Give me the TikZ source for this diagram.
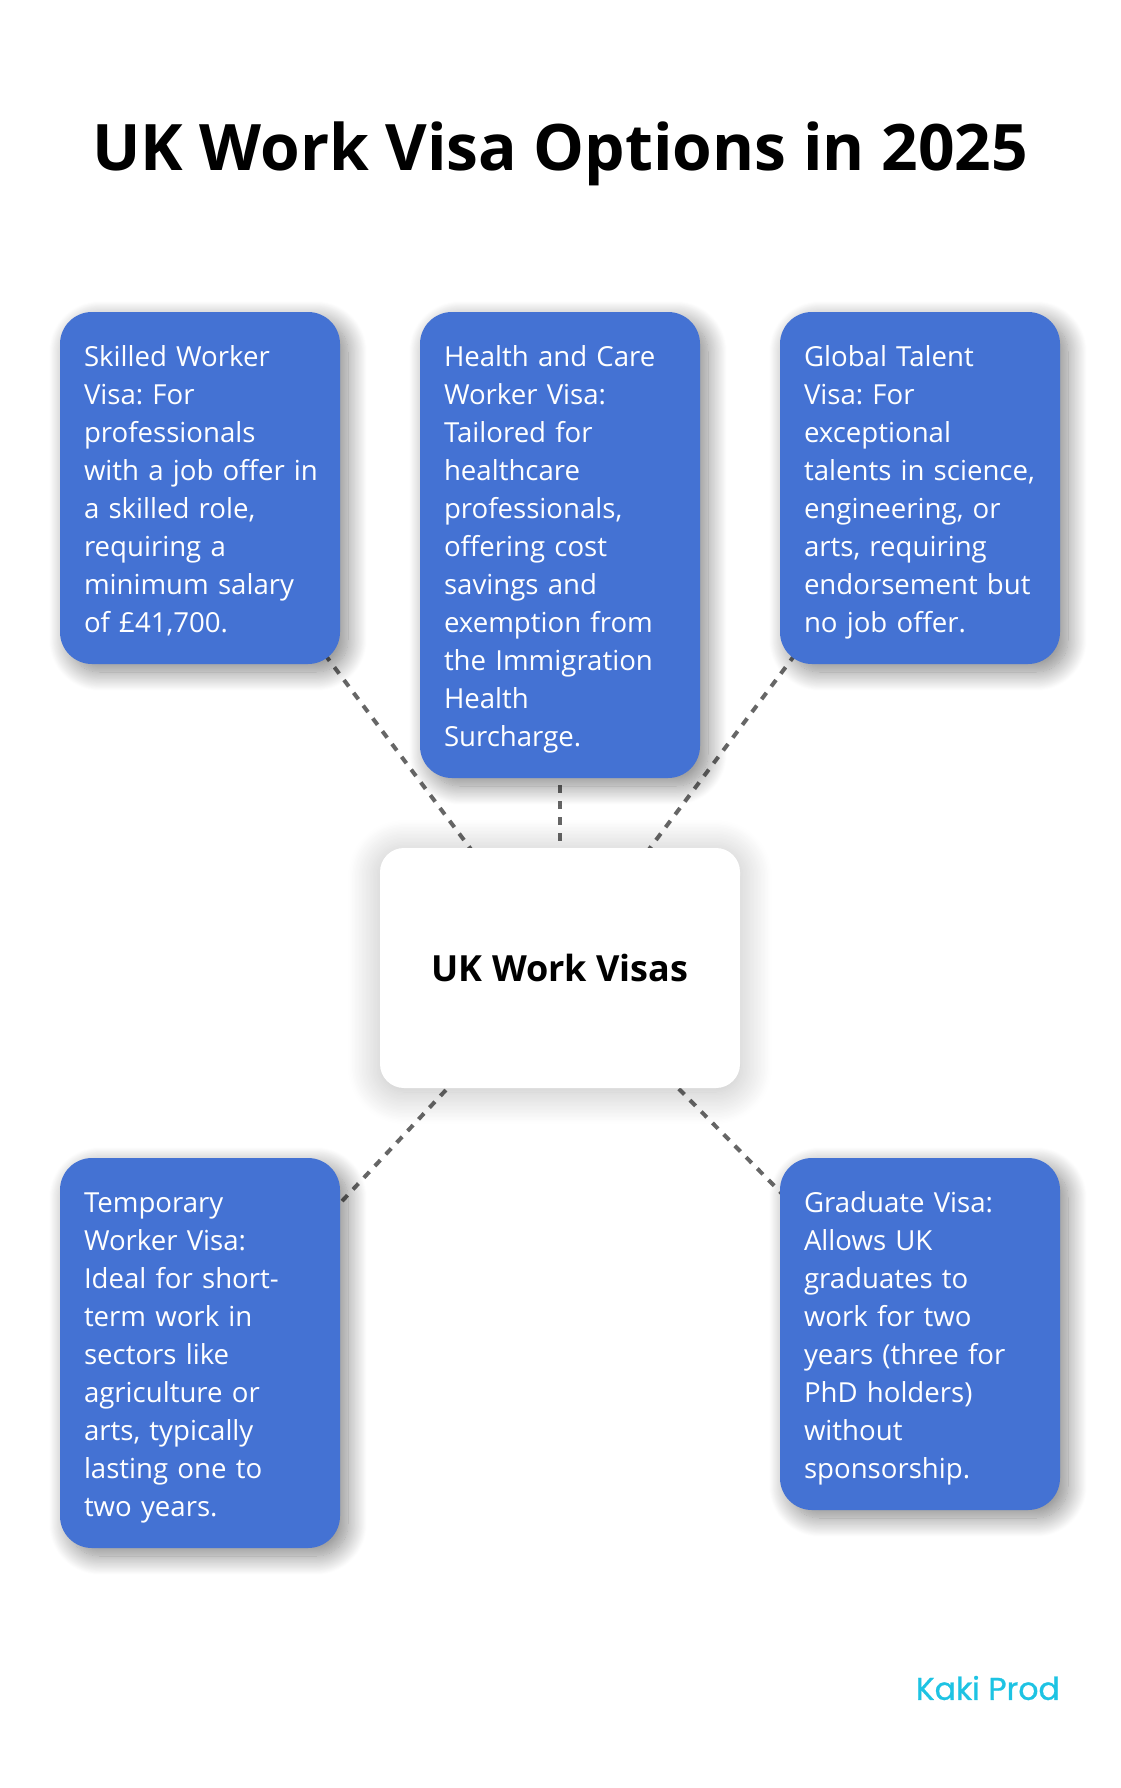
\documentclass[tikz,border=0pt]{standalone}
\usepackage{fontspec}
\setmainfont{Open Sans}
\newfontfamily\cardfont[WordSpace={1,0,0}]{Open Sans}
\newfontface\brandfont[FakeBold=0.9]{Poppins}
\usetikzlibrary{positioning, backgrounds, shadows.blur}
\definecolor{cardblue}{HTML}{4472D3}
\definecolor{linkgray}{HTML}{666666}
\definecolor{brandcyan}{HTML}{1DC3E3}
\tikzset{
	card/.style={fill=cardblue, text=white, rounded corners=32pt, outer sep=0pt, inner xsep=24pt, inner ysep=24pt, align=left, anchor=north west, text width=232pt, font=\fontsize{27.6}{38}\cardfont\frenchspacing, execute at begin node={\rightskip=-20pt plus 1fil\relax\hyphenpenalty=10000\relax\rule{0pt}{30.2pt}}, execute at end node={\rule[-7.8pt]{0pt}{7.8pt}}, blur shadow={shadow xshift=8pt, shadow yshift=-8pt, shadow blur radius=19pt, shadow blur steps=24, shadow opacity=48}},
	hub/.style={fill=white, rounded corners=24pt, outer sep=0pt, minimum width=360pt, minimum height=240pt, align=center, font=\fontsize{36}{44}\selectfont\bfseries, blur shadow={shadow xshift=0pt, shadow yshift=-4pt, shadow blur radius=32pt, shadow blur steps=24, shadow opacity=26}},
	link/.style={draw=linkgray, line width=4pt, dash pattern=on 8pt off 8pt}
}
\begin{document}
\begin{tikzpicture}[x=1pt, y=-1pt, node distance=80pt]
	\useasboundingbox (0,0) rectangle (1120,1788);
	\node[font=\fontsize{64.1}{76}\selectfont\bfseries] (title) at (560,154) {UK Work Visa Options in 2025};
	\node[card] (skilled) at (60,312) {Skilled Worker\\Visa: For\\professionals\\with a job offer in\\a skilled role,\\requiring a\\minimum salary\\of £41,700.};
	\node[card, right=of skilled.north east, anchor=north west] (health) {Health and Care\\Worker Visa:\\Tailored for\\healthcare\\professionals,\\offering cost\\savings and\\exemption from\\the Immigration\\Health\\Surcharge.};
	\node[card, right=of health.north east, anchor=north west] (talent) {Global Talent\\Visa: For\\exceptional\\talents in science,\\engineering, or\\arts, requiring\\endorsement but\\no job offer.};
	\node[hub] (visas) at (560,968) {UK Work Visas};
	\node[card] (temporary) at (60,1158) {Temporary\\Worker Visa:\\Ideal for short-\\term work in\\sectors like\\agriculture or\\arts, typically\\lasting one to\\two years.};
	\node[card] (graduate) at (780,1158) {Graduate Visa:\\Allows UK\\graduates to\\work for two\\years (three for\\PhD holders)\\without\\sponsorship.};
	\node[text=brandcyan, font=\fontsize{31.5}{36}\brandfont, anchor=east, inner sep=0pt] (brand) at (1060,1688) {Kaki Prod};
	\begin{scope}[on background layer]
		\draw[link] (skilled.center) -- (visas.center);
		\draw[link] (health.center) -- (visas.center);
		\draw[link] (talent.center) -- (visas.center);
		\draw[link] (temporary.center) -- (visas.center);
		\draw[link] (graduate.center) -- (visas.center);
	\end{scope}
\end{tikzpicture}
\end{document}
